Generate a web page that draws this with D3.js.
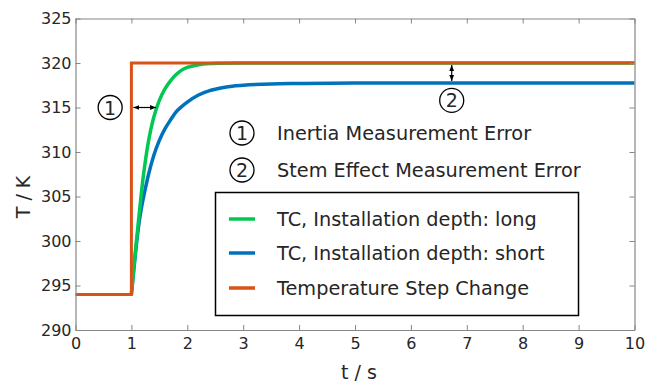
<!DOCTYPE html>
<html><head><meta charset="utf-8">
<script src="https://cdn.jsdelivr.net/npm/d3@7"></script>
<style>body{margin:0;background:#fff}svg{display:block}text{font-family:"DejaVu Sans",Verdana,sans-serif;fill:#262626}</style>
</head><body><svg id="c" width="646" height="382"></svg>
<script>
// ---- data ----
const timeLong   = [1.00,1.05,1.10,1.15,1.20,1.25,1.30,1.35,1.40,1.50,1.60,1.70,1.80,1.90,2.00,2.20,2.40,2.60,3.00,10.0];
const tempLong   = [294.0,297.5,300.6,303.7,306.6,309.0,311.0,312.6,313.9,315.8,317.1,318.0,318.7,319.2,319.5,319.8,319.93,319.97,320.0,320.0];
const timeShort  = [1.00,1.05,1.10,1.15,1.20,1.25,1.30,1.40,1.50,1.60,1.70,1.80,1.90,2.00,2.20,2.40,2.60,2.80,3.00,3.50,4.00,5.00,10.0];
const tempShort  = [294.0,297.2,300.2,302.6,304.4,305.9,307.3,309.6,311.3,312.6,313.6,314.5,315.1,315.6,316.4,316.9,317.2,317.4,317.5,317.65,317.7,317.75,317.75];
const timeStep   = [0,1,1,10];
const tempStep   = [294,294,320,320];
const xTicks = [0,1,2,3,4,5,6,7,8,9,10];
const yTicks = [290,295,300,305,310,315,320,325];
const seriesNames = ["TC, Installation depth: long","TC, Installation depth: short","Temperature Step Change"];
const seriesColors = ["#00c853","#0072bd","#d95319"];
const noteLabels = ["Inertia Measurement Error","Stem Effect Measurement Error"];
const arrow1 = {t0:1.0, t1:1.46, T:315};
const arrow2 = {t:6.73, T0:320, T1:317.75};
const circle1 = {t:0.62, T:315};
const circle2 = {t:6.73, T:315.8};

// ---- layout ----
const svg = d3.select("#c");
const L=75.5, R=634.5, T=18.5, B=330;
const x = d3.scaleLinear().domain([0,10]).range([L,R]);
const y = d3.scaleLinear().domain([290,325]).range([B,T]);
const axisCol="#868686";

const zipd=(a,b)=>a.map((v,i)=>[v,b[i]]);
const line=d3.line().x(d=>x(d[0])).y(d=>y(d[1])).curve(d3.curveMonotoneX);
const lineLin=d3.line().x(d=>x(d[0])).y(d=>y(d[1]));

// curves
svg.append("path").attr("d",line(zipd(timeShort,tempShort))).attr("fill","none").attr("stroke",seriesColors[1]).attr("stroke-width",3.5);
svg.append("path").attr("d",line(zipd(timeLong,tempLong))).attr("fill","none").attr("stroke",seriesColors[0]).attr("stroke-width",3.5);
svg.append("path").attr("d",lineLin(zipd(timeStep,tempStep))).attr("fill","none").attr("stroke",seriesColors[2]).attr("stroke-width",3).attr("stroke-linejoin","miter");

// axes
function styleAxis(g){g.selectAll("path").attr("stroke",axisCol).attr("stroke-width",1.2);g.selectAll("line").attr("stroke",axisCol);g.selectAll("text").attr("font-size","16px").attr("fill","#262626").style("font-family","DejaVu Sans");}
svg.append("g").attr("transform",`translate(0,${B})`).call(d3.axisBottom(x).tickValues(xTicks).tickSizeInner(-5).tickSizeOuter(0).tickPadding(8).tickFormat(d3.format("d"))).call(styleAxis);
svg.append("g").attr("transform",`translate(0,${T})`).call(d3.axisTop(x).tickValues(xTicks).tickSizeInner(-5).tickSizeOuter(0).tickFormat("")).call(styleAxis);
svg.append("g").attr("transform",`translate(${L},0)`).call(d3.axisLeft(y).tickValues(yTicks).tickSizeInner(-5).tickSizeOuter(0).tickPadding(4).tickFormat(d3.format("d"))).call(styleAxis);
svg.append("g").attr("transform",`translate(${R},0)`).call(d3.axisRight(y).tickValues(yTicks).tickSizeInner(-5).tickSizeOuter(0).tickFormat("")).call(styleAxis);

svg.append("text").attr("x",(L+R)/2+4).attr("y",379).attr("text-anchor","middle").attr("font-size","19px").text("t / s");
svg.append("text").attr("transform",`translate(30,197) rotate(-90)`).attr("text-anchor","middle").attr("font-size","19px").text("T / K");

// arrows
const defs=svg.append("defs");
defs.append("marker").attr("id","ah").attr("viewBox","0 0 10 10").attr("refX",10).attr("refY",5).attr("markerWidth",6).attr("markerHeight",6).attr("orient","auto-start-reverse").attr("markerUnits","userSpaceOnUse")
  .append("path").attr("d","M0,1 L10,5 L0,9 Z").attr("fill","#000");
svg.append("line").attr("x1",x(arrow1.t0)+2).attr("x2",x(arrow1.t1)-1).attr("y1",y(arrow1.T)).attr("y2",y(arrow1.T)).attr("stroke","#000").attr("stroke-width",1.2).attr("marker-start","url(#ah)").attr("marker-end","url(#ah)");
svg.append("line").attr("x1",x(arrow2.t)).attr("x2",x(arrow2.t)).attr("y1",y(arrow2.T0)+2).attr("y2",y(arrow2.T1)-2).attr("stroke","#000").attr("stroke-width",1.2).attr("marker-start","url(#ah)").attr("marker-end","url(#ah)");

function numCircle(cx,cy,n){
  svg.append("circle").attr("cx",cx).attr("cy",cy).attr("r",12).attr("fill","none").attr("stroke","#000").attr("stroke-width",1.3);
  svg.append("text").attr("x",cx).attr("y",cy+7).attr("text-anchor","middle").attr("font-size","19px").attr("fill","#000").text(n);
}
numCircle(x(circle1.t),y(circle1.T),"1");
numCircle(x(circle2.t),y(circle2.T),"2");

// notes
numCircle(242,133,"1");
numCircle(242,170,"2");
svg.append("text").attr("x",277).attr("y",140).attr("font-size","19.3px").text(noteLabels[0]);
svg.append("text").attr("x",277).attr("y",177).attr("font-size","19.3px").text(noteLabels[1]);

// legend
svg.append("rect").attr("x",215.5).attr("y",192.5).attr("width",363).attr("height",123).attr("fill","#fff").attr("stroke","#000").attr("stroke-width",1.5);
const rowsY=[219,253,288];
seriesNames.forEach((n,i)=>{
  svg.append("line").attr("x1",229).attr("x2",255).attr("y1",rowsY[i]).attr("y2",rowsY[i]).attr("stroke",seriesColors[i]).attr("stroke-width",3.5);
  svg.append("text").attr("x",277).attr("y",rowsY[i]+7).attr("font-size","19.3px").text(n);
});
</script></body></html>
